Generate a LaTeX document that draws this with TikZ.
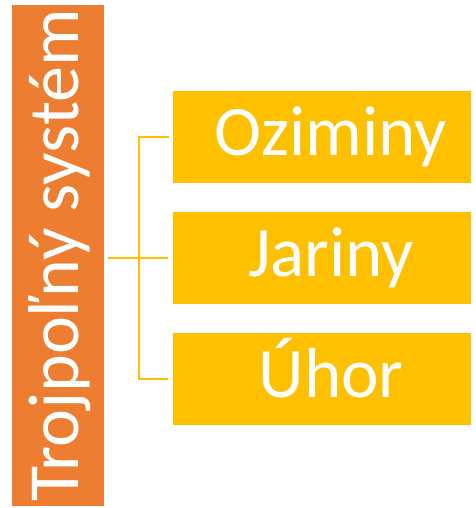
\documentclass[tikz,border=0pt]{standalone}
\usepackage{fontspec}
\setmainfont{Carlito}
\usetikzlibrary{positioning}

\definecolor{sysorange}{HTML}{ED7D31}
\definecolor{cropgold}{HTML}{FFC000}

\tikzset{
  system/.style={fill=sysorange, text=white, rotate=90, inner sep=0pt, outer sep=0pt,
    minimum width=501pt, text height=66pt, text depth=26pt,
    font=\fontsize{72}{86}\selectfont},
  field/.style={fill=cropgold, text=white, inner sep=0pt, outer sep=0pt,
    minimum width=298pt, text height=65pt, text depth=27pt,
    font=\fontsize{71}{85}\selectfont,
    execute at begin node={\hspace*{18pt}}},
  link/.style={draw=cropgold, line width=2.5pt}
}

\begin{document}
\begin{tikzpicture}[x=1pt, y=1pt]
    \useasboundingbox (0,0) rectangle (475,508);

    \node[system] (sys) at (58,252.5) {Trojpoľný systém};
    \node[field] (ozim) at (322,371) {Oziminy};
    \node[field, below=29pt of ozim] (jar) {Jariny};
    \node[field, below=29pt of jar] (uhor) {Úhor};

    \coordinate (tap) at (108,250);
    \coordinate (fork) at (139,250);

    \draw[link] (tap) -- ([xshift=-5pt]jar.west);
    \draw[link] ([xshift=-4pt]ozim.west) -| (fork) |- ([xshift=-5pt]uhor.west);
\end{tikzpicture}
\end{document}
